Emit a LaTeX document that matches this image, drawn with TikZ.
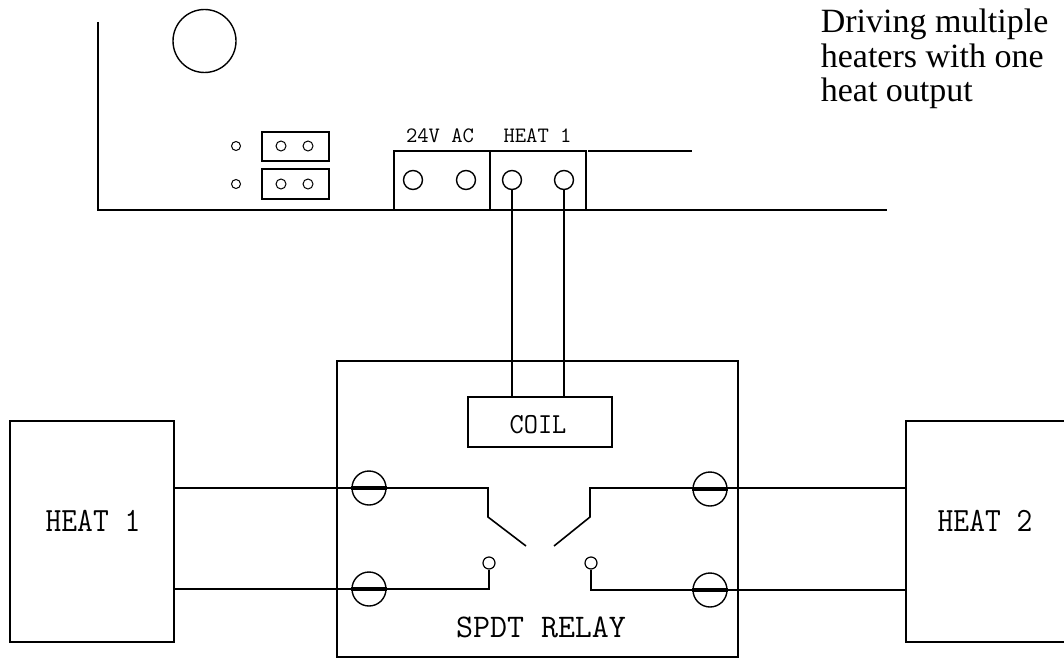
\documentclass[tikz,border=0pt]{standalone}
\usepackage{fontspec}
\setmainfont{Liberation Serif}
\begin{document}
\begin{tikzpicture}[x=1pt,y=-1pt,line width=1.6pt,
  boxr/.style={draw,line width=1.6pt,inner sep=0pt,rectangle},
  ring/.style={draw,circle,inner sep=0pt,line width=1.4pt},
  lab/.style={font=\ttfamily\fontsize{#1}{#1}\selectfont,inner sep=0pt,anchor=base},
  ttl/.style={font=\fontsize{34}{34}\selectfont,inner sep=0pt,anchor=base west},
  wire/.style={line width=1.6pt},
  bar/.style={line width=3.2pt}]
\useasboundingbox (0,0) rectangle (1064,658);

% title
\node[ttl] (ttl1) at (820,33) {Driving multiple};
\node[ttl] (ttl2) at (820,67.5) {heaters with one};
\node[ttl] (ttl3) at (820,102) {heat output};

% board outline
\coordinate (bTL) at (98,22);
\coordinate (bBL) at (98,210);
\coordinate (bBR) at (887,210);
\draw[wire] (bTL) -- (bBL) -- (bBR);
\node[ring,minimum size=63pt] (bigc) at (204.5,41) {};

% jumpers
\node[ring,minimum size=9pt,line width=1pt] (j1) at (236,146) {};
\node[ring,minimum size=9pt,line width=1pt] (j2) at (236,184) {};
\node[boxr,minimum width=67pt,minimum height=29pt] (jb1) at (295.5,146.5) {};
\node[boxr,minimum width=67pt,minimum height=30pt] (jb2) at (295.5,184) {};
\node[ring,minimum size=10pt,line width=1pt] (jc1) at (281,146) {};
\node[ring,minimum size=10pt,line width=1pt] (jc2) at (308,146) {};
\node[ring,minimum size=10pt,line width=1pt] (jc3) at (281,184) {};
\node[ring,minimum size=10pt,line width=1pt] (jc4) at (308,184) {};

% terminal block
\node[boxr,minimum width=96pt,minimum height=59pt] (tb1) at (442,180.5) {};
\node[boxr,minimum width=96pt,minimum height=59pt] (tb2) at (538,180.5) {};
\node[ring,minimum size=19pt] (t1) at (413,180) {};
\node[ring,minimum size=19pt] (t2) at (466,180) {};
\node[ring,minimum size=19pt] (t3) at (512,180) {};
\node[ring,minimum size=19pt] (t4) at (564,180) {};
\node[lab=22] (l24) at (440,142) {24V AC};
\node[lab=22] (lh1) at (537.5,142) {HEAT 1};
\coordinate (ln1) at (588,151);
\coordinate (ln2) at (692,151);
\draw[wire] (ln1) -- (ln2);

% relay
\node[boxr,minimum width=401pt,minimum height=296pt] (relay) at (537.5,509) {};
\node[boxr,minimum width=144pt,minimum height=50pt] (coil) at (540,422) {};
\node[lab=29] (lcoil) at (538,433) {\scalebox{0.95}[1]{COIL}};
\node[lab=33] (lrel) at (541,637) {SPDT RELAY};
\draw[wire] (t3.south) -- (t3.south |- coil.north);
\draw[wire] (t4.south) -- (t4.south |- coil.north);

% heaters
\node[boxr,minimum width=164pt,minimum height=221pt] (h1) at (92,531.5) {};
\node[lab=34] (lh1b) at (93,531) {\scalebox{0.9}[1]{HEAT 1}};
\coordinate (h2tl) at (906,421);
\coordinate (h2bl) at (906,642);
\coordinate (h2tr) at (1064,421);
\coordinate (h2br) at (1064,642);
\draw[wire] (h2tr) -- (h2tl) -- (h2bl) -- (h2br);
\node[lab=34] (lh2) at (985,531) {\scalebox{0.9}[1]{HEAT 2}};

% relay terminals
\node[ring,minimum size=34pt] (L1) at (369,488) {};
\node[ring,minimum size=34pt] (L2) at (369,589) {};
\node[ring,minimum size=34pt] (R1) at (710,489) {};
\node[ring,minimum size=34pt] (R2) at (710,590) {};
\draw[bar] (L1.west) -- (L1.east);
\draw[bar] (L2.west) -- (L2.east);
\draw[bar] (R1.west) -- (R1.east);
\draw[bar] (R2.west) -- (R2.east);

% contacts
\node[ring,minimum size=12pt,line width=1.2pt] (c1) at (489,563) {};
\node[ring,minimum size=12pt,line width=1.2pt] (c2) at (591,563) {};

% switch arms
\coordinate (s1a) at (488,488);
\coordinate (s1b) at (488,517);
\coordinate (s1c) at (526,546);
\coordinate (s2a) at (590,488);
\coordinate (s2b) at (590,517);
\coordinate (s2c) at (554,546);
\coordinate (s3a) at (489,589);
\coordinate (s4a) at (591,590);

\draw[wire] (h1.east |- L1) -- (s1a) -- (s1b) -- (s1c);
\draw[wire] (h1.east |- L2) -- (s3a) -- (c1.south);
\draw[wire] (h2tl |- s2a) -- (s2a) -- (s2b) -- (s2c);
\draw[wire] (h2tl |- s4a) -- (s4a) -- (c2.south);
\end{tikzpicture}
\end{document}
